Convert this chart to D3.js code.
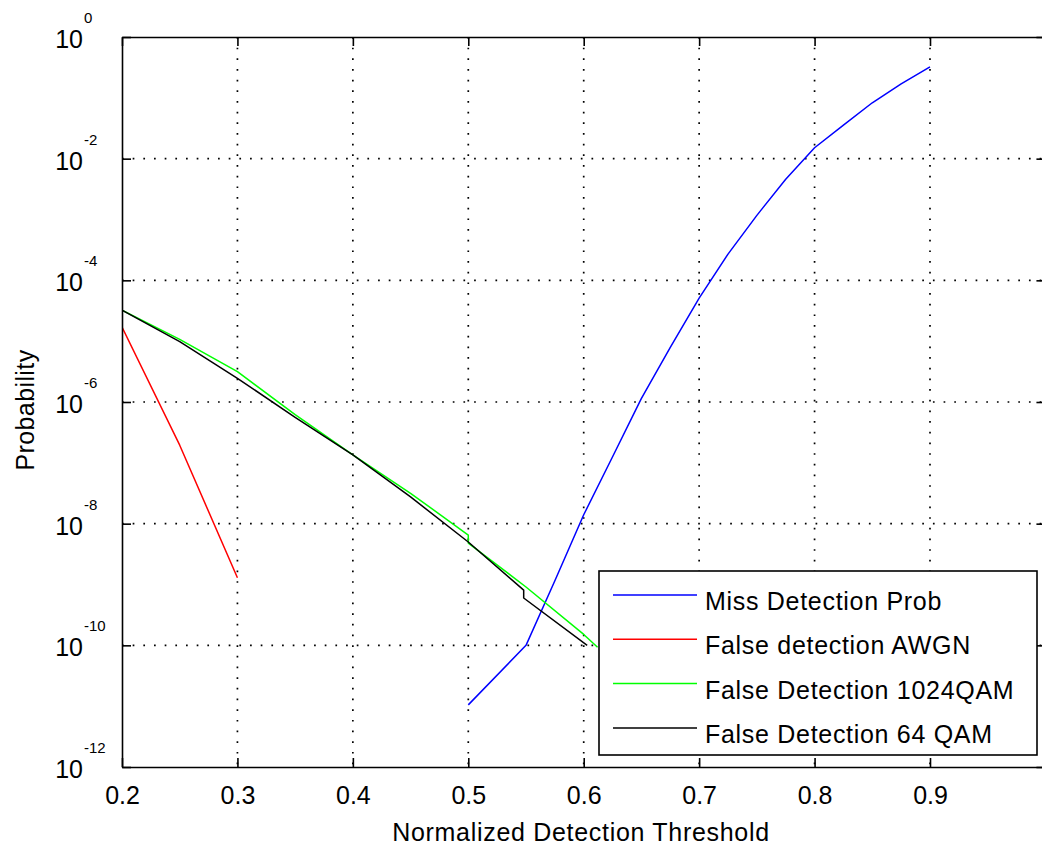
<!DOCTYPE html>
<html>
<head>
<meta charset="utf-8">
<script src="https://cdn.jsdelivr.net/npm/d3@7/dist/d3.min.js"></script>
<style>
  html, body { margin: 0; padding: 0; background: #fff; }
  svg { display: block; }
  text { font-family: "Liberation Sans", Arial, sans-serif; fill: #000; }
</style>
</head>
<body>
<svg id="chart" width="1042" height="845"></svg>
<script>
// ---- data ----
const xTicks = [0.2, 0.3, 0.4, 0.5, 0.6, 0.7, 0.8, 0.9];
const xTickLabels = ["0.2", "0.3", "0.4", "0.5", "0.6", "0.7", "0.8", "0.9"];
const yTickExponents = [0, -2, -4, -6, -8, -10, -12];
const yTickLabels = ["0", "-2", "-4", "-6", "-8", "-10", "-12"];

const seriesNames = ["Miss Detection Prob", "False detection AWGN", "False Detection 1024QAM", "False Detection 64 QAM"];
const seriesColors = ["#0000ff", "#ff0000", "#00ff00", "#000000"];

const missX = [0.5, 0.55, 0.575, 0.6, 0.625, 0.65, 0.675, 0.7, 0.725, 0.75, 0.775, 0.8, 0.825, 0.85, 0.875, 0.9];
const missP = [1.05e-11, 1.0e-10, 1.15e-9, 1.4e-8, 1.26e-7, 1.15e-6, 7.9e-6, 5.1e-5, 2.7e-4, 1.17e-3, 4.6e-3, 1.51e-2, 3.55e-2, 8.3e-2, 0.17, 0.324];

const awgnX = [0.2, 0.25, 0.3];
const awgnP = [1.7e-5, 1.95e-7, 1.29e-9];

const qam1024X = [0.2, 0.25, 0.3, 0.35, 0.4, 0.45, 0.5, 0.5, 0.55, 0.6, 0.612];
const qam1024P = [3.24e-5, 1.07e-5, 3.16e-6, 6.2e-7, 1.35e-7, 3.16e-8, 6.5e-9, 4.8e-9, 9.1e-10, 1.51e-10, 9.3e-11];

const qam64X = [0.2, 0.25, 0.3, 0.35, 0.4, 0.45, 0.5, 0.548, 0.548, 0.603];
const qam64P = [3.24e-5, 9.8e-6, 2.45e-6, 5.6e-7, 1.35e-7, 2.75e-8, 5.0e-9, 8.1e-10, 6.0e-10, 1.0e-10];

const xLabel = "Normalized Detection Threshold";
const yLabel = "Probability";

// ---- layout ----
const svg = d3.select("#chart");
const pL = 122, pT = 37, pB = 767;
const pR = 122 + (930 - 122) / 0.7 * 0.8; // x = 1.0 lies just past the image edge

const x = d3.scaleLinear().domain([0.2, 1.0]).range([pL, pR]);
const y = d3.scaleLog().domain([1e-12, 1]).range([pB, pT]);

svg.append("rect").attr("width", 1042).attr("height", 845).attr("fill", "#fff");

// grid
const grid = svg.append("g")
  .attr("stroke", "#000").attr("stroke-width", 1.7)
  .attr("stroke-dasharray", "1.7,8.97").attr("fill", "none");
xTicks.slice(1).forEach(v => {
  grid.append("line").attr("x1", x(v)).attr("x2", x(v)).attr("y1", pT).attr("y2", pB);
});
yTickExponents.slice(1, -1).forEach(e => {
  grid.append("line").attr("x1", pL).attr("x2", pR).attr("y1", y(Math.pow(10, e))).attr("y2", y(Math.pow(10, e)));
});

// series
svg.append("clipPath").attr("id", "clip")
  .append("rect").attr("x", pL).attr("y", pT).attr("width", pR - pL).attr("height", pB - pT);
const plot = svg.append("g").attr("clip-path", "url(#clip)");
const line = d3.line().x(d => x(d[0])).y(d => y(d[1]));
const series = [
  d3.zip(missX, missP),
  d3.zip(awgnX, awgnP),
  d3.zip(qam1024X, qam1024P),
  d3.zip(qam64X, qam64P)
];
series.forEach((s, i) => {
  plot.append("path").datum(s).attr("d", line)
    .attr("fill", "none").attr("stroke", seriesColors[i]).attr("stroke-width", 1.5)
    .attr("stroke-linejoin", "round");
});

// axes (box with inward ticks, D3 axis generators)
const tickLen = 9;
const axB = d3.axisBottom(x).tickValues(xTicks).tickFormat((d, i) => xTickLabels[i])
  .tickSizeInner(-tickLen).tickSizeOuter(0);
const gB = svg.append("g").attr("transform", `translate(0,${pB})`).call(axB);
gB.selectAll("text").attr("font-size", 25).attr("dy", 0).attr("y", 37).attr("font-family", "Liberation Sans, Arial, sans-serif");

const axT = d3.axisTop(x).tickValues(xTicks).tickFormat("").tickSizeInner(-tickLen).tickSizeOuter(0);
svg.append("g").attr("transform", `translate(0,${pT})`).call(axT);

const yVals = yTickExponents.map(e => Math.pow(10, e));
const axL = d3.axisLeft(y).tickValues(yVals).tickFormat("").tickSizeInner(-tickLen).tickSizeOuter(0);
svg.append("g").attr("transform", `translate(${pL},0)`).call(axL);
const axR = d3.axisRight(y).tickValues(yVals).tickFormat("").tickSizeInner(-tickLen).tickSizeOuter(0);
svg.append("g").attr("transform", `translate(${pR},0)`).call(axR);

svg.selectAll(".domain").attr("stroke", "#000").attr("stroke-width", 1.6);
svg.selectAll(".tick line").attr("stroke", "#000").attr("stroke-width", 1.6);

// y tick labels: 10 with superscript exponent
const yLab = svg.append("g");
yTickExponents.forEach((e, i) => {
  const yy = y(Math.pow(10, e));
  yLab.append("text").attr("x", 83).attr("y", yy + 11).attr("text-anchor", "end")
    .attr("font-size", 25).text("10");
  yLab.append("text").attr("x", 84).attr("y", yy - 14).attr("text-anchor", "start")
    .attr("font-size", 15).text(yTickLabels[i]);
});

// axis labels
svg.append("text").attr("x", 581).attr("y", 841).attr("text-anchor", "middle")
  .attr("font-size", 25).attr("letter-spacing", 0.7).text(xLabel);
svg.append("text").attr("transform", `translate(34,410) rotate(-90)`).attr("text-anchor", "middle")
  .attr("font-size", 25).attr("letter-spacing", 0.4).text(yLabel);

// legend
const lg = svg.append("g");
lg.append("rect").attr("x", 599).attr("y", 571).attr("width", 438).attr("height", 184)
  .attr("fill", "#fff").attr("stroke", "#000").attr("stroke-width", 1.6);
seriesNames.forEach((n, i) => {
  const ly = 595 + i * 44.3;
  lg.append("line").attr("x1", 613).attr("x2", 697).attr("y1", ly).attr("y2", ly)
    .attr("stroke", seriesColors[i]).attr("stroke-width", 1.5);
  lg.append("text").attr("x", 705).attr("y", ly + 15).attr("font-size", 25)
    .attr("letter-spacing", 0.7).text(n);
});
</script>
</body>
</html>
